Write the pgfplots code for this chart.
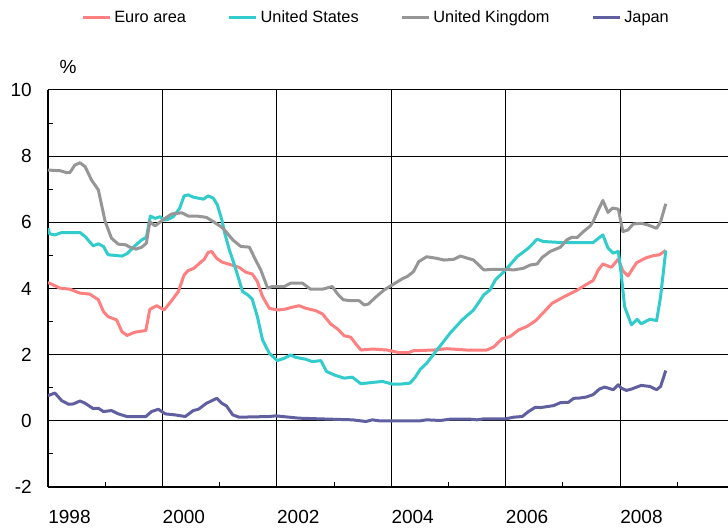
\documentclass[border=0pt]{standalone}
\usepackage{fontspec}
\setmainfont{Liberation Sans}
\usepackage{pgfplots}
\pgfplotsset{compat=1.18}

\definecolor{euro}{RGB}{255,128,128}
\definecolor{usa}{RGB}{51,204,204}
\definecolor{uk}{RGB}{150,150,150}
\definecolor{jpn}{RGB}{96,96,160}

\begin{document}
\begin{tikzpicture}
\begin{axis}[
    name=ax,
    scale only axis,
    width=408pt, height=238.2pt,
    xmin=1998, xmax=2009.888,
    ymin=-2, ymax=10,
    axis lines*=left,
    axis line style={black, line width=0.9pt},
    xtick={1998,2000,...,2008},
    xticklabels={1998,2000,2002,2004,2006,2008},
    minor xtick={1999,2001,...,2009},
    ytick={-2,0,...,10},
    minor ytick={-1,1,...,9},
    tick align=inside,
    major tick length=3pt, minor tick length=3pt,
    tick style={black, line width=0.6pt},
    xmajorgrids, ymajorgrids,
    major grid style={black, line width=0.6pt},
    /pgf/number format/assume math mode=true,
    tick label style={font=\fontsize{11.4}{13}\selectfont},
    xticklabel style={anchor=north west, inner sep=0pt, yshift=-13.8pt, xshift=0pt},
    yticklabel style={anchor=east, inner sep=0pt, xshift=-9.6pt},
    line join=round,
    every axis plot/.append style={line width=1.8pt},
    legend columns=4,
    legend style={
        at={(0.0485,1.1814)}, anchor=west,
        draw=none, fill=none,
        font=\fontsize{9.8}{12}\selectfont,
        inner sep=0pt,
        nodes={inner sep=0pt},
        /tikz/every even column/.append style={column sep=25pt},
    },
    legend image code/.code={
        \draw[#1, line width=1.8pt] (0pt,0pt) -- (16.2pt,0pt);
        \path (18pt,0pt);
    },
]
\addplot[euro, no markers] coordinates {
(1998.00,4.18) (1998.21,4.01) (1998.38,3.98) (1998.56,3.86) (1998.73,3.83) (1998.88,3.66) (1998.97,3.30) (1999.05,3.15) (1999.20,3.05) (1999.29,2.70) (1999.38,2.58) (1999.52,2.68) (1999.71,2.73) (1999.78,3.37) (1999.90,3.48) (2000.03,3.35) (2000.16,3.63) (2000.28,3.91) (2000.38,4.41) (2000.45,4.54) (2000.55,4.61) (2000.66,4.78) (2000.73,4.88) (2000.80,5.09) (2000.86,5.12) (2000.95,4.91) (2001.04,4.80) (2001.17,4.73) (2001.34,4.64) (2001.46,4.49) (2001.57,4.44) (2001.66,4.21) (2001.75,3.76) (2001.87,3.40) (2002.01,3.35) (2002.13,3.37) (2002.24,3.42) (2002.39,3.48) (2002.51,3.40) (2002.68,3.33) (2002.80,3.23) (2002.94,2.93) (2003.06,2.78) (2003.18,2.57) (2003.29,2.53) (2003.38,2.33) (2003.47,2.14) (2003.67,2.17) (2003.93,2.14) (2004.14,2.06) (2004.30,2.06) (2004.39,2.12) (2004.74,2.14) (2004.97,2.18) (2005.32,2.14) (2005.67,2.14) (2005.79,2.23) (2005.94,2.48) (2006.08,2.55) (2006.23,2.75) (2006.37,2.85) (2006.52,3.02) (2006.66,3.27) (2006.81,3.55) (2007.01,3.74) (2007.25,3.95) (2007.41,4.12) (2007.53,4.24) (2007.62,4.56) (2007.70,4.74) (2007.85,4.64) (2007.97,4.89) (2008.05,4.53) (2008.14,4.38) (2008.29,4.78) (2008.46,4.93) (2008.58,4.99) (2008.69,5.02) (2008.80,5.15)
};
\addplot[usa, no markers] coordinates {
(1998.00,5.82) (1998.03,5.65) (1998.12,5.62) (1998.24,5.69) (1998.56,5.69) (1998.65,5.57) (1998.79,5.29) (1998.88,5.35) (1998.97,5.27) (1999.05,5.02) (1999.29,4.98) (1999.38,5.05) (1999.52,5.29) (1999.64,5.47) (1999.72,5.55) (1999.79,6.19) (1999.87,6.12) (1999.96,6.17) (2000.03,6.07) (2000.10,6.09) (2000.19,6.17) (2000.30,6.42) (2000.38,6.80) (2000.45,6.83) (2000.54,6.76) (2000.72,6.70) (2000.80,6.80) (2000.89,6.73) (2000.96,6.53) (2001.04,6.07) (2001.09,5.67) (2001.17,5.17) (2001.25,4.76) (2001.34,4.26) (2001.40,3.91) (2001.49,3.81) (2001.57,3.68) (2001.66,3.15) (2001.75,2.45) (2001.87,2.04) (2002.01,1.82) (2002.13,1.89) (2002.24,1.99) (2002.33,1.92) (2002.51,1.86) (2002.62,1.79) (2002.77,1.82) (2002.87,1.49) (2003.03,1.37) (2003.18,1.29) (2003.32,1.32) (2003.47,1.12) (2003.67,1.16) (2003.85,1.19) (2004.02,1.11) (2004.16,1.11) (2004.33,1.14) (2004.42,1.32) (2004.51,1.56) (2004.62,1.74) (2004.80,2.14) (2005.03,2.65) (2005.24,3.05) (2005.44,3.35) (2005.62,3.81) (2005.73,3.96) (2005.82,4.26) (2006.00,4.56) (2006.20,4.96) (2006.40,5.22) (2006.55,5.49) (2006.66,5.42) (2006.96,5.39) (2007.19,5.39) (2007.53,5.39) (2007.70,5.62) (2007.79,5.22) (2007.88,5.07) (2007.97,5.12) (2008.02,4.46) (2008.08,3.45) (2008.20,2.90) (2008.30,3.07) (2008.37,2.93) (2008.52,3.07) (2008.64,3.03) (2008.71,3.76) (2008.80,5.15)
};
\addplot[uk, no markers] coordinates {
(1998.00,7.58) (1998.21,7.56) (1998.33,7.50) (1998.38,7.50) (1998.47,7.73) (1998.56,7.80) (1998.65,7.68) (1998.76,7.28) (1998.88,6.98) (1999.00,6.02) (1999.11,5.52) (1999.23,5.34) (1999.36,5.32) (1999.43,5.25) (1999.54,5.19) (1999.64,5.25) (1999.72,5.37) (1999.78,6.02) (1999.87,5.89) (2000.02,6.09) (2000.16,6.25) (2000.34,6.29) (2000.45,6.19) (2000.60,6.19) (2000.77,6.15) (2000.89,6.02) (2001.04,5.85) (2001.11,5.72) (2001.23,5.47) (2001.37,5.27) (2001.52,5.25) (2001.63,4.86) (2001.72,4.56) (2001.84,4.01) (2001.92,4.06) (2002.13,4.06) (2002.24,4.16) (2002.45,4.16) (2002.59,3.98) (2002.80,3.98) (2002.97,4.06) (2003.06,3.84) (2003.16,3.66) (2003.29,3.63) (2003.44,3.63) (2003.53,3.50) (2003.60,3.53) (2003.73,3.74) (2003.88,3.96) (2004.02,4.11) (2004.20,4.30) (2004.28,4.36) (2004.39,4.51) (2004.48,4.81) (2004.62,4.96) (2004.80,4.91) (2004.92,4.86) (2005.09,4.88) (2005.21,4.98) (2005.44,4.86) (2005.53,4.71) (2005.62,4.56) (2005.79,4.58) (2006.00,4.58) (2006.14,4.56) (2006.31,4.61) (2006.43,4.71) (2006.55,4.74) (2006.64,4.94) (2006.78,5.12) (2006.96,5.25) (2007.07,5.47) (2007.16,5.55) (2007.25,5.54) (2007.36,5.72) (2007.48,5.89) (2007.53,6.02) (2007.62,6.37) (2007.70,6.66) (2007.79,6.30) (2007.87,6.43) (2007.97,6.40) (2008.05,5.72) (2008.14,5.77) (2008.23,5.95) (2008.37,5.97) (2008.49,5.92) (2008.64,5.82) (2008.71,6.02) (2008.80,6.56)
};
\addplot[jpn, no markers] coordinates {
(1998.00,0.76) (1998.12,0.84) (1998.24,0.61) (1998.36,0.50) (1998.44,0.51) (1998.56,0.60) (1998.65,0.53) (1998.79,0.37) (1998.88,0.38) (1998.97,0.28) (1999.11,0.31) (1999.23,0.21) (1999.38,0.13) (1999.71,0.13) (1999.81,0.28) (1999.93,0.35) (2000.05,0.21) (2000.22,0.18) (2000.40,0.13) (2000.54,0.31) (2000.63,0.35) (2000.77,0.53) (2000.95,0.68) (2001.04,0.53) (2001.12,0.45) (2001.23,0.18) (2001.34,0.11) (2001.87,0.13) (2001.98,0.15) (2002.16,0.12) (2002.39,0.08) (2002.74,0.06) (2003.32,0.03) (2003.56,-0.02) (2003.67,0.03) (2003.79,0.00) (2004.51,0.00) (2004.62,0.03) (2004.86,0.01) (2005.03,0.05) (2005.38,0.05) (2005.50,0.03) (2005.62,0.06) (2006.00,0.06) (2006.14,0.11) (2006.29,0.13) (2006.40,0.28) (2006.52,0.41) (2006.61,0.40) (2006.84,0.46) (2006.96,0.55) (2007.10,0.56) (2007.19,0.68) (2007.30,0.69) (2007.41,0.72) (2007.53,0.79) (2007.64,0.96) (2007.73,1.02) (2007.79,0.99) (2007.88,0.94) (2007.97,1.09) (2008.02,0.99) (2008.11,0.92) (2008.20,0.96) (2008.37,1.07) (2008.52,1.04) (2008.64,0.94) (2008.71,1.04) (2008.80,1.52)
};
\legend{Euro area, United States, United Kingdom, Japan}
\end{axis}
\node[font=\fontsize{11.4}{13}\selectfont, anchor=center] at ([shift={(12pt,13.8pt)}]ax.north west) {\%};
\pgfresetboundingbox
\path ([shift={(-28.8pt,-25.2pt)}]ax.south west) rectangle ([shift={(0pt,54pt)}]ax.north east);
\end{tikzpicture}
\end{document}
